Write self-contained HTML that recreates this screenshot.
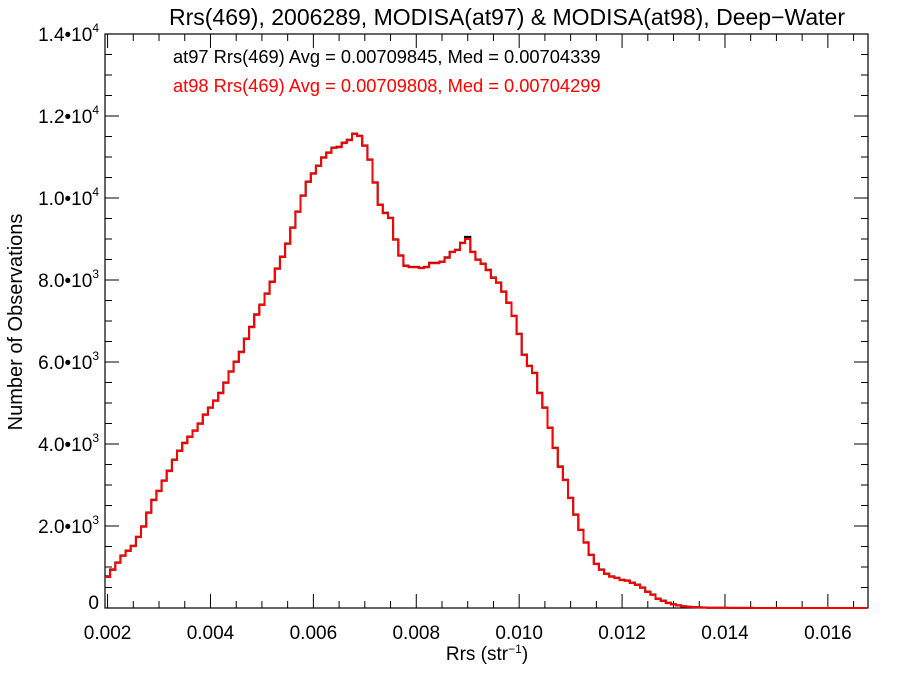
<!DOCTYPE html>
<html><head><meta charset="utf-8"><style>
body{margin:0;background:#fff}
svg{display:block;font-family:"Liberation Sans",Helvetica,sans-serif}
</style></head><body>
<svg id="chart" width="900" height="675">
<text x="507" y="25" font-size="23" text-anchor="middle">Rrs(469), 2006289, MODISA(at97) &amp; MODISA(at98), Deep−Water</text>
<g id="axes"></g>
<g id="series"></g>
<text x="173" y="63" font-size="18.3" fill="#000">at97 Rrs(469) Avg = 0.00709845, Med = 0.00704339</text>
<text x="173" y="92" font-size="18.3" fill="#ff0000">at98 Rrs(469) Avg = 0.00709808, Med = 0.00704299</text>
<text x="487" y="660" font-size="19" text-anchor="middle">Rrs (str<tspan font-size="12" dy="-7">−1</tspan><tspan dy="7">)</tspan></text>
<text transform="translate(22,322) rotate(-90)" font-size="20" text-anchor="middle">Number of Observations</text>
</svg>
<script>
const binStart = 0.00195;
const binWidth = 0.0001;
const countsAt98 = [756,927,1100,1270,1390,1510,1730,1980,2320,2630,2850,3100,3340,3610,3830,4020,4170,4320,4490,4710,4880,5050,5240,5490,5760,6000,6240,6560,6850,7150,7390,7660,7950,8270,8560,8880,9270,9660,10050,10390,10590,10780,10980,11100,11220,11240,11340,11410,11560,11510,11270,10930,10370,9830,9630,9510,8980,8590,8340,8310,8310,8290,8310,8410,8410,8440,8540,8680,8730,8900,9000,8680,8490,8390,8240,8050,7930,7710,7440,7120,6680,6170,5900,5730,5240,4880,4390,3900,3440,3120,2680,2270,1900,1590,1290,1070,930,830,760,730,680,660,610,560,490,390,320,220,170,120,85,60,40,30,20,15,10,8,6,5,4,3,3,2,2,2,1,1,1,1,1,1,0,0,0,0,0,0,0,0,0,0,0,0,0,0,0,0];
const countsAt97 = [770,940,1110,1280,1400,1520,1740,1990,2330,2640,2860,3110,3350,3620,3840,4030,4180,4330,4500,4720,4890,5060,5250,5500,5770,6010,6250,6570,6860,7160,7400,7670,7960,8280,8570,8890,9280,9670,10060,10400,10600,10790,10990,11110,11230,11250,11350,11420,11570,11520,11280,10940,10380,9840,9640,9520,8990,8600,8350,8320,8320,8300,8320,8420,8420,8450,8550,8690,8740,8910,9050,8690,8500,8400,8250,8060,7940,7720,7450,7130,6690,6180,5910,5740,5250,4890,4400,3910,3450,3130,2690,2280,1910,1600,1300,1080,940,840,770,740,690,670,620,570,500,400,330,230,180,130,90,65,45,32,22,16,11,8,6,5,4,3,3,2,2,2,1,1,1,1,1,1,0,0,0,0,0,0,0,0,0,0,0,0,0,0,0,0];
const xTickValues = [0.002,0.004,0.006,0.008,0.010,0.012,0.014,0.016];
const xTickLabels = ["0.002","0.004","0.006","0.008","0.010","0.012","0.014","0.016"];
const yTickValues = [0,2000,4000,6000,8000,10000,12000,14000];
const yTickLabels = [["0",""],["2.0•10","3"],["4.0•10","3"],["6.0•10","3"],["8.0•10","3"],["1.0•10","4"],["1.2•10","4"],["1.4•10","4"]];

const L=105,R=868,T=34,B=608;
const xMin=0.00195,xMax=0.01678,yMin=0,yMax=14000;
const xs=v=>L+(v-xMin)/(xMax-xMin)*(R-L);
const ys=v=>B-(v-yMin)/(yMax-yMin)*(B-T);
const NS="http://www.w3.org/2000/svg";
const axes=document.getElementById('axes');
const series=document.getElementById('series');
function mk(tag,attrs,parent){const e=document.createElementNS(NS,tag);for(const k in attrs)e.setAttribute(k,attrs[k]);parent.appendChild(e);return e;}

const frame=mk('rect',{x:L,y:T,width:R-L,height:B-T,fill:'none',stroke:'#000','stroke-width':1.2},axes);



for(let v=0.002;v<=xMax+1e-9;v+=0.0005){
  const x=xs(v);const major=Math.abs(Math.round(v/0.002)*0.002-v)<1e-9;const len=major?14:7;
  const t1=mk('line',{x1:x,x2:x,y1:B,y2:B-len,stroke:'#000','stroke-width':1},axes);
  
  
  const t2=mk('line',{x1:x,x2:x,y1:T,y2:T+len,stroke:'#000','stroke-width':1},axes);
  
  
}
xTickValues.forEach((v,i)=>{
  const t=mk('text',{x:xs(v),y:639,'font-size':19,'text-anchor':'middle'},axes);
  t.textContent=xTickLabels[i];
  
  
});
for(let v=0;v<=yMax;v+=500){
  const y=ys(v);const major=v%2000===0;const len=major?14:7;
  const t1=mk('line',{x1:L,x2:L+len,y1:y,y2:y,stroke:'#000','stroke-width':1},axes);
  
  
  const t2=mk('line',{x1:R,x2:R-len,y1:y,y2:y,stroke:'#000','stroke-width':1},axes);
  
  
}
yTickValues.forEach((v,i)=>{
  const t=mk('text',{x:99,y:ys(v)+(v===0?1:7),'font-size':19,'text-anchor':'end'},axes);
  const lab=yTickLabels[i];
  if(lab[1]){t.innerHTML=lab[0]+'<tspan font-size="12" dy="-9">'+lab[1]+'</tspan>';}
  else t.textContent=lab[0];
  
  
});

function stepPath(counts){
  let d='';
  counts.forEach((c,i)=>{
    const x0=xs(binStart+i*binWidth),x1=Math.min(xs(binStart+(i+1)*binWidth),R);
    const y=ys(c);
    d+=(i===0?'M':'L')+x0.toFixed(1)+','+y.toFixed(1)+'L'+x1.toFixed(1)+','+y.toFixed(1);
  });
  return d;
}
const p97=mk('path',{d:stepPath(countsAt97),fill:'none',stroke:'#000','stroke-width':2},series);


const p98=mk('path',{d:stepPath(countsAt98),fill:'none',stroke:'#ff0000','stroke-width':2},series);


</script>
</body></html>
